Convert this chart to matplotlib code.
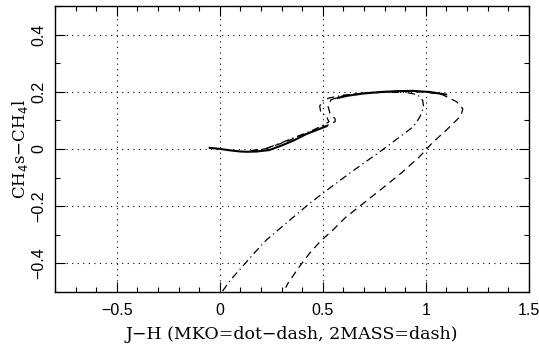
import matplotlib.pyplot as plt
from matplotlib.ticker import MultipleLocator

# model colour track (solid), drawn in two pieces
solid_x1 = [-0.05, 0.0, 0.05, 0.10, 0.13, 0.18, 0.24, 0.30, 0.36, 0.42, 0.47, 0.52]
solid_y1 = [0.004, 0.0, -0.005, -0.009, -0.010, -0.009, -0.004, 0.012, 0.030, 0.052, 0.066, 0.080]
solid_x2 = [0.57, 0.62, 0.70, 0.78, 0.86, 0.94, 1.02, 1.10]
solid_y2 = [0.178, 0.186, 0.194, 0.199, 0.202, 0.203, 0.199, 0.190]

# MKO (dot-dash)
mko_x = [0.15, 0.22, 0.30, 0.38, 0.45, 0.50, 0.53, 0.52, 0.49, 0.485, 0.50, 0.53, 0.60, 0.70,
         0.80, 0.90, 0.96, 0.985, 0.99, 0.97, 0.94, 0.87, 0.79, 0.65, 0.55, 0.437, 0.33,
         0.227, 0.16, 0.097, 0.05, 0.008]
mko_y = [-0.007, 0.0, 0.022, 0.045, 0.065, 0.082, 0.095, 0.11, 0.13, 0.15, 0.168, 0.178, 0.188,
         0.195, 0.198, 0.198, 0.19, 0.17, 0.145, 0.11, 0.078, 0.04, -0.003, -0.075, -0.128,
         -0.19, -0.255, -0.318, -0.37, -0.422, -0.46, -0.503]

# 2MASS (dash)
tm_x = [0.15, 0.22, 0.30, 0.38, 0.45, 0.52, 0.56, 0.56, 0.535, 0.525, 0.54, 0.60, 0.70, 0.80,
        0.90, 1.00, 1.08, 1.15, 1.18, 1.17, 1.10, 1.03, 0.97, 0.88, 0.78, 0.68, 0.61, 0.55,
        0.49, 0.437, 0.38, 0.332, 0.32]
tm_y = [-0.006, 0.0, 0.02, 0.042, 0.062, 0.082, 0.095, 0.105, 0.125, 0.15, 0.172, 0.186,
        0.196, 0.200, 0.201, 0.199, 0.19, 0.165, 0.14, 0.115, 0.066, 0.02, -0.027, -0.085,
        -0.143, -0.2, -0.24, -0.283, -0.322, -0.364, -0.418, -0.469, -0.485]


def fmt(v, p):
    v = round(v, 1)
    if abs(v) < 1e-9:
        return '0'
    return ('%g' % v).replace('-', '\u2212')


fig = plt.figure(figsize=(5.39, 3.5), dpi=100)
ax = fig.add_axes([0.102, 0.166, 0.879, 0.817])

ax.plot(solid_x1, solid_y1, color='black', lw=1.5, solid_capstyle='round')
ax.plot(solid_x2, solid_y2, color='black', lw=1.5, solid_capstyle='round')
ax.plot(mko_x, mko_y, color='black', lw=0.9, linestyle=(0, (6, 3, 1, 3)))
ax.plot(tm_x, tm_y, color='black', lw=0.9, linestyle=(0, (6, 4)))

ax.set_xlim(-0.8, 1.5)
ax.set_ylim(-0.5, 0.5)
ax.xaxis.set_major_locator(MultipleLocator(0.5))
ax.xaxis.set_minor_locator(MultipleLocator(0.1))
ax.yaxis.set_major_locator(MultipleLocator(0.2))
ax.yaxis.set_minor_locator(MultipleLocator(0.1))
ax.xaxis.set_major_formatter(plt.FuncFormatter(fmt))
ax.yaxis.set_major_formatter(plt.FuncFormatter(fmt))
ax.tick_params(which='both', direction='in', top=True, right=True, width=0.8)
ax.tick_params(which='major', length=7)
ax.tick_params(which='minor', length=3.5)
for lab in ax.get_xticklabels() + ax.get_yticklabels():
    lab.set_family('Liberation Sans')
    lab.set_fontsize(11.5)
ax.tick_params(axis='x', pad=8)
ax.tick_params(axis='y', pad=6)
for lab in ax.get_yticklabels():
    lab.set_rotation(90)
    lab.set_va('center')

ax.grid(True, which='major', linestyle=(0, (1, 4)), color='black', lw=0.8)
for s in ax.spines.values():
    s.set_linewidth(1.0)

ax.set_xlabel('J\u2212H (MKO=dot\u2212dash, 2MASS=dash)', family='DejaVu Serif', fontsize=12.5, labelpad=6)
ax.set_ylabel('CH$_4$s\u2212CH$_4$l', family='DejaVu Serif', fontsize=12, labelpad=1)

fig.savefig('out.png', dpi=100)
